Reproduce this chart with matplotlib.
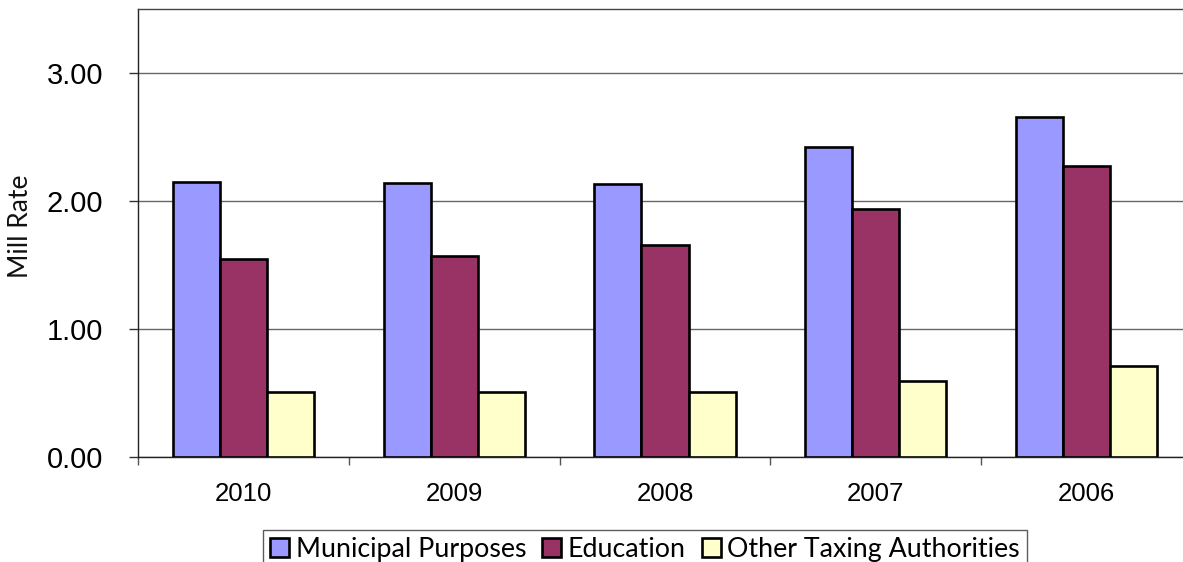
import numpy as np
import matplotlib.pyplot as plt
from matplotlib.ticker import MultipleLocator, FixedLocator

plt.rcParams['font.family'] = ['Liberation Sans', 'DejaVu Sans']

# mill rates by year
years = ['2010', '2009', '2008', '2007', '2006']
municipal = [2.15, 2.14, 2.13, 2.42, 2.66]
education = [1.55, 1.57, 1.66, 1.94, 2.27]
other = [0.51, 0.51, 0.51, 0.59, 0.71]

series_names = ['Municipal Purposes', 'Education', 'Other Taxing Authorities']
series_colors = ['#9999FF', '#993366', '#FFFFCC']

fig = plt.figure(figsize=(11.83, 5.62), dpi=100)
ax = fig.add_axes([138 / 1183, 1 - 457 / 562, 1054 / 1183, 448 / 562])

x = np.arange(len(years))
w = 0.223
for i, (vals, name, col) in enumerate(zip([municipal, education, other], series_names, series_colors)):
    ax.bar(x + (i - 1) * w, vals, width=w, color=col, edgecolor='black',
           linewidth=1.9, label=name, zorder=3)

ax.set_xlim(-0.5, len(years) - 0.5)
ax.set_ylim(0, 3.5)

# y axis
ax.yaxis.set_major_locator(FixedLocator([0, 1, 2, 3]))
ax.set_yticklabels(['0.00', '1.00', '2.00', '3.00'])
ax.tick_params(axis='y', direction='out', length=6.5, width=1, pad=18.5,
               color='#333333', labelsize=21)
ax.grid(axis='y', color='#666666', linewidth=1.0, zorder=0)

# x axis: labels at centres, tick marks between groups
ax.set_xticks(x)
ax.set_xticklabels(years)
ax.tick_params(axis='x', which='major', length=0, pad=18, labelsize=18.5)
ax.xaxis.set_minor_locator(MultipleLocator(1, offset=0.5))
ax.tick_params(axis='x', which='minor', direction='out', length=6, width=1, color='#555555')

for side in ['left', 'top', 'bottom', 'right']:
    ax.spines[side].set_color('#222222')
    ax.spines[side].set_linewidth(1.0)
ax.spines['top'].set_color('#444444')

ax.set_ylabel('Mill Rate', fontsize=19, family='Lato', color='#111111')
ax.yaxis.set_label_coords(33 / 1183, 1 - 226 / 562, transform=fig.transFigure)

leg = fig.legend(loc='upper center', bbox_to_anchor=(645 / 1183, 1 - 530 / 562),
                 ncol=3, frameon=True, fancybox=False, edgecolor='#333333',
                 prop={'family': 'Lato', 'size': 19.3}, handlelength=0.7,
                 handleheight=0.7, handletextpad=0.25, columnspacing=0.6,
                 borderpad=0.25, borderaxespad=0)
leg.get_frame().set_linewidth(1.0)

fig.savefig('out.png', dpi=100)
